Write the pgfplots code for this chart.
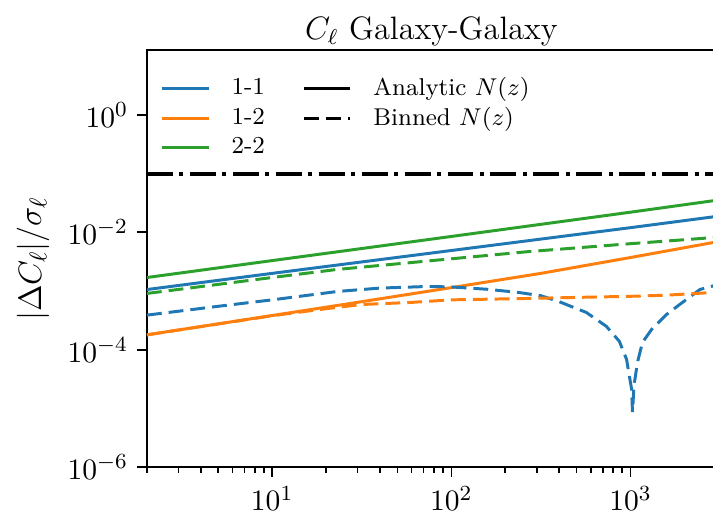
\documentclass[border=0pt]{standalone}
\usepackage{pgfplots}
\pgfplotsset{compat=1.18}

\definecolor{mplblue}{HTML}{1F77B4}
\definecolor{mplorange}{HTML}{FF7F0E}
\definecolor{mplgreen}{HTML}{2CA02C}

\begin{document}
\begin{tikzpicture}
% the reference is cut just left of the right spine
\useasboundingbox (-54.4pt,-18.5pt) rectangle (209.6pt,173pt);
\clip (-54.4pt,-18.5pt) rectangle (209.6pt,173pt);
\begin{axis}[
  at={(0pt,0pt)}, anchor=south west,
  scale only axis,
  width=210.7pt, height=154.4pt,
  xmode=log, ymode=log,
  xmin=2, xmax=3000, ymin=1e-6, ymax=12.6,
  ytick={1e-6,1e-4,1e-2,1},
  yminorticks=false,
  tick pos=left,
  tick align=outside,
  major tick length=3.5pt,
  minor tick length=2pt,
  axis line style={line width=0.8pt},
  every tick/.style={black, line width=0.6pt},
  tick label style={font=\fontsize{11}{13}\selectfont},
  title={$C_\ell$ Galaxy-Galaxy},
  title style={font=\large, yshift=-8pt},
  ylabel={$|\Delta C_\ell|/\sigma_\ell$},
  ylabel style={font=\fontsize{13}{15}\selectfont},
  legend columns=2,
  legend cell align=left,
  legend style={at={(0,1)}, anchor=north west, draw=none, fill=none,
    font=\small, xshift=2pt, yshift=-5.7pt, row sep=-1pt,
    /tikz/every odd column/.append style={column sep=6pt},
    /tikz/every even column/.append style={column sep=12pt}},
]
% analytic N(z)
\addplot[forget plot, mplblue, line width=1.1pt] coordinates {
 (2,1.06e-3) (10,2.0e-3) (100,4.9e-3) (1000,1.2e-2) (3000,1.86e-2)};
\addplot[forget plot, mplorange, line width=1.1pt] coordinates {
 (2,1.795e-4) (10,3.83e-4) (31.6,6.59e-4) (100,1.143e-3) (316,2.0e-3) (1000,3.72e-3) (3000,6.84e-3)};
\addplot[forget plot, mplgreen, line width=1.1pt] coordinates {
 (2,1.7e-3) (10,3.3e-3) (100,8.5e-3) (1000,2.2e-2) (3000,3.5e-2)};
% binned N(z)
\addplot[forget plot, mplblue, line width=1.1pt, dash pattern=on 5.5pt off 2.6pt] coordinates {
 (2,3.89e-4) (5,5.50e-4) (10,7.08e-4) (23.2,9.84e-4) (39.8,1.122e-3) (74.3,1.197e-3)
 (100,1.175e-3) (158.5,1.072e-3) (237.7,9.46e-4) (316.2,8.32e-4) (399,6.61e-4)
 (566,4.33e-4) (733,2.51e-4) (867,1.39e-4) (951,6.87e-5) (986,3.55e-5) (1014,2.14e-5)
 (1026,8.7e-6) (1047,2.51e-5) (1094,6.11e-5) (1167,1.337e-4) (1312,2.22e-4)
 (1592,4.0e-4) (1884,5.92e-4) (2443,1.064e-3) (3000,1.26e-3)};
\addplot[forget plot, mplorange, line width=1.1pt, dash pattern=on 5.5pt off 2.6pt] coordinates {
 (2,1.795e-4) (5,2.75e-4) (10,3.8e-4) (20,5.0e-4) (31.6,5.9e-4) (59.6,6.4e-4) (100,7.08e-4)
 (271,7.48e-4) (670,7.94e-4) (1000,8.13e-4) (1585,8.5e-4) (2891,9.46e-4) (3000,9.55e-4)};
\addplot[forget plot, mplgreen, line width=1.1pt, dash pattern=on 5.5pt off 2.6pt] coordinates {
 (2,9.1e-4) (10,1.7e-3) (23,2.33e-3) (100,3.54e-3) (271,4.7e-3) (1000,6.4e-3) (3000,8.2e-3)};
% reference level
\addplot[forget plot, black, line width=1.5pt, dash pattern=on 9.6pt off 2.4pt on 1.5pt off 2.4pt] coordinates {
 (2,0.1) (3000,0.1)};
% legend, filled row by row
\addlegendimage{mplblue, line width=1.1pt}
\addlegendentry{1-1}
\addlegendimage{black, line width=1.1pt}
\addlegendentry{Analytic $N(z)$}
\addlegendimage{mplorange, line width=1.1pt}
\addlegendentry{1-2}
\addlegendimage{black, line width=1.1pt, dash pattern=on 5.5pt off 2.6pt}
\addlegendentry{Binned $N(z)$}
\addlegendimage{mplgreen, line width=1.1pt}
\addlegendentry{2-2}
\end{axis}
\end{tikzpicture}
\end{document}
